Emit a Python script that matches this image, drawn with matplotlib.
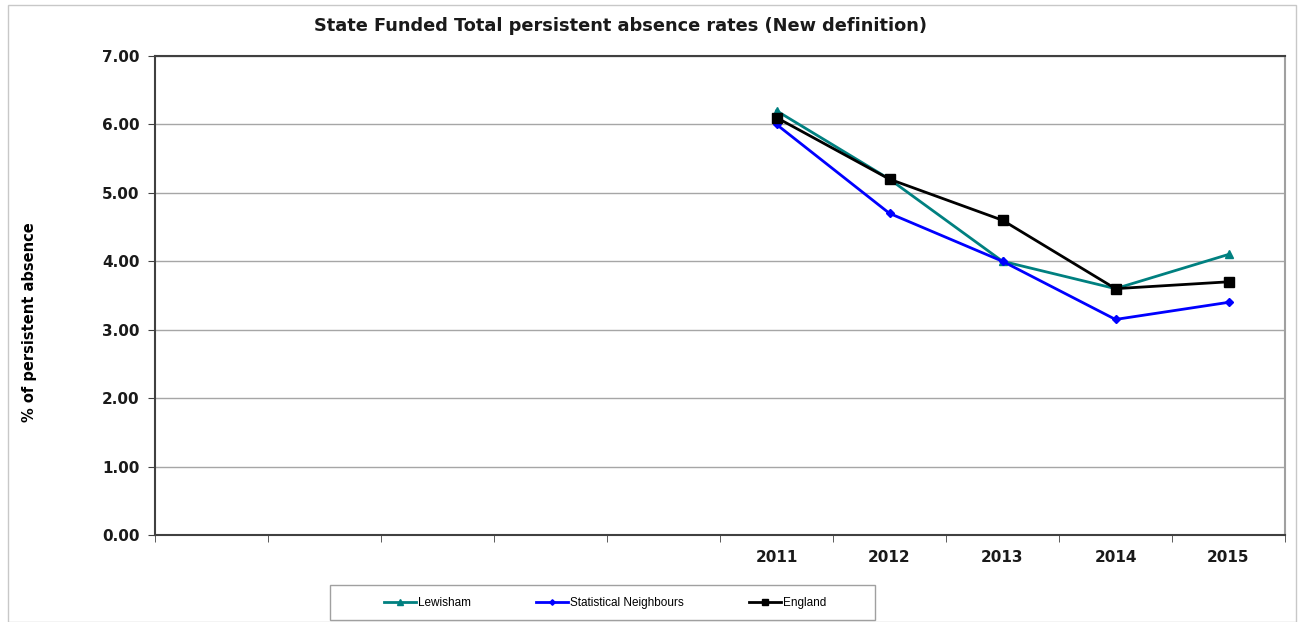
import matplotlib.pyplot as plt
from matplotlib.patches import Rectangle

# 10 category slots on the x axis, only the last five have data
categories = ["", "", "", "", "", "2011", "2012", "2013", "2014", "2015"]
years = ["2011", "2012", "2013", "2014", "2015"]
lewisham = [6.2, 5.2, 4.0, 3.6, 4.1]
stat_neighbours = [6.0, 4.7, 4.0, 3.15, 3.4]
england = [6.1, 5.2, 4.6, 3.6, 3.7]

W, H = 1304, 622
fig = plt.figure(figsize=(W / 100, H / 100), dpi=100)
ax = fig.add_axes([155 / W, 1 - 535 / H, (1285 - 155) / W, (535 - 56) / H])

xs = [categories.index(y) for y in years]
ax.plot(xs, lewisham, color="#008080", marker="^", markersize=6, lw=2, label="Lewisham")
ax.plot(xs, stat_neighbours, color="#0000FF", marker="D", markersize=4, lw=2, label="Statistical Neighbours")
ax.plot(xs, england, color="#000000", marker="s", markersize=7, lw=2, label="England")

ax.set_xlim(-0.5, len(categories) - 0.5)
ax.set_ylim(0, 7)
ax.set_yticks([0, 1, 2, 3, 4, 5, 6, 7])
ax.set_yticklabels(["%.2f" % v for v in range(8)], fontsize=11, fontweight="bold", color="#1a1a1a")
ax.set_xticks(range(len(categories)))
ax.set_xticklabels(categories, fontsize=11, fontweight="bold", color="#1a1a1a")
ax.set_xticks([i - 0.5 for i in range(len(categories) + 1)], minor=True)
ax.tick_params(axis="x", which="major", length=0, pad=11)
ax.tick_params(axis="x", which="minor", length=5, color="#404040")
ax.tick_params(axis="y", length=5, color="#404040", pad=6)

ax.grid(axis="y", color="#a6a6a6", lw=1)
ax.set_axisbelow(True)
for side in ["left", "bottom", "top"]:
    ax.spines[side].set_color("#404040")
    ax.spines[side].set_linewidth(1.5)
ax.spines["right"].set_color("#a0a0a0")
ax.spines["right"].set_linewidth(1.5)

fig.text(30 / W, 1 - 322 / H, "% of persistent absence", rotation=90,
         ha="center", va="center", fontsize=10.5, fontweight="bold")
fig.text(620 / W, 1 - 26 / H, "State Funded Total persistent absence rates (New definition)",
         ha="center", va="center", fontsize=12.8, fontweight="bold", color="#1a1a1a")

# outer chart border
fig.patches.append(Rectangle((8 / W, 0), 1288 / W, 617 / H, transform=fig.transFigure,
                             fill=False, edgecolor="#c8c8c8", lw=1))
# legend box
fig.patches.append(Rectangle((330 / W, 1 - 620 / H), 545 / W, 35 / H, transform=fig.transFigure,
                             fill=False, edgecolor="#a0a0a0", lw=1))

leg = fig.legend(loc="center", bbox_to_anchor=(605 / W, 1 - 603 / H), ncol=3,
                 prop={"family": ["Liberation Sans Narrow", "Liberation Sans"], "size": 8.5},
                 frameon=False, handlelength=2.7, handletextpad=0.2,
                 columnspacing=5.5, markerscale=0.7)

fig.savefig("out.png", dpi=100)
